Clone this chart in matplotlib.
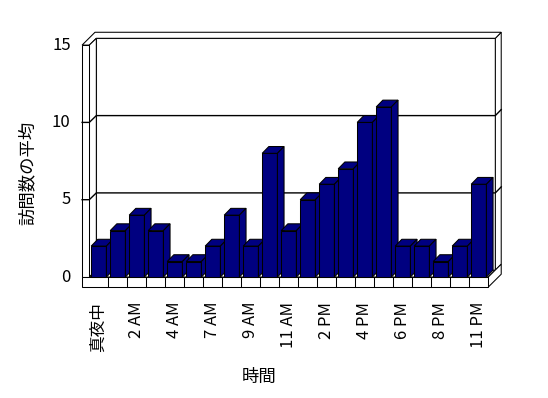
import matplotlib
matplotlib.use("Agg")
import matplotlib.pyplot as plt
from matplotlib.patches import Polygon, Rectangle

plt.rcParams['font.family'] = ['Noto Sans CJK JP', 'DejaVu Sans']

# data
hours = ['真夜中', '1 AM', '2 AM', '3 AM', '4 AM', '5 AM', '7 AM', '8 AM', '9 AM', '10 AM',
         '11 AM', '12 PM', '2 PM', '3 PM', '4 PM', '5 PM', '6 PM', '7 PM', '8 PM', '10 PM', '11 PM']
visits = [2, 3, 4, 3, 1, 1, 2, 4, 2, 8, 3, 5, 6, 7, 10, 11, 2, 2, 1, 2, 6]
yticks = [0, 5, 10, 15]
ymax = 15

NAVY = '#000080'
LW = 0.75

# 3d look (data units)
bw = 0.8            # bar width
bdx, bdy = 0.35, 0.44   # bar depth
idx, idy = 0.37, 0.44   # back wall inner plane
odx, ody = 0.68, 0.83   # back wall outer plane
wt = 0.38           # left wall thickness
ft = 0.65           # floor thickness

n = len(visits)
xL, xR = -0.5, n - 0.5

fig = plt.figure(figsize=(5.48, 3.98), dpi=100)
ax = fig.add_axes([0, 0, 1, 1])
ax.set_xlim(-98.8 / 19, (548 - 98.8) / 19)
ax.set_ylim(-121 / 15.46, (398 - 121) / 15.46)
ax.axis('off')


def poly(pts, fc='white', z=1):
    ax.add_patch(Polygon(pts, closed=True, facecolor=fc, edgecolor='black',
                         linewidth=LW, zorder=z, joinstyle='miter'))


# back wall
poly([(xL + idx, idy), (xR + idx, idy), (xR + idx, ymax + idy), (xL + idx, ymax + idy)], z=1)
# right end of back wall
poly([(xR + idx, idy), (xR + idx, ymax + idy), (xR + odx, ymax + ody), (xR + odx, ody)], z=1)
# top of walls
poly([(xL - wt, ymax), (xL, ymax), (xL + idx, ymax + idy), (xR + idx, ymax + idy),
      (xR + odx, ymax + ody), (xL - wt + odx, ymax + ody)], z=1)
# left wall inner face
poly([(xL, 0), (xL + idx, idy), (xL + idx, ymax + idy), (xL, ymax)], z=1)
# left wall front face
poly([(xL - wt, 0), (xL, 0), (xL, ymax), (xL - wt, ymax)], z=1)

# gridlines
for v in yticks[1:-1]:
    ax.plot([xL - wt, xL, xL + idx, xR + idx, xR + odx],
            [v, v, v + idy, v + idy, v + ody], color='black', lw=1.0, zorder=2)

# floor
poly([(xL, 0), (xR, 0), (xR + idx, idy), (xL + idx, idy)], z=3)
poly([(xR, -ft), (xR, 0), (xR + odx, ody), (xR + odx, ody - ft)], z=3)
ax.add_patch(Rectangle((xL - wt, -ft), xR - xL + wt, ft, facecolor='white',
                       edgecolor='black', linewidth=LW, zorder=3))
for k in range(1, n):
    ax.plot([xL + k, xL + k], [-ft, 0], color='black', lw=LW, zorder=3)

# bars, left to right so each one hides the side of the previous
for i, v in enumerate(visits):
    z = 10 + i
    ax.bar(i, v, width=bw, color=NAVY, edgecolor='black', linewidth=LW, zorder=z)
    l, r = i - bw / 2, i + bw / 2
    poly([(l, v), (r, v), (r + bdx, v + bdy), (l + bdx, v + bdy)], fc=NAVY, z=z)
    poly([(r, 0), (r + bdx, bdy), (r + bdx, v + bdy), (r, v)], fc=NAVY, z=z)

# y tick labels
for v in yticks:
    ax.text(xL - wt - 0.6, v, str(v), ha='right', va='center', fontsize=12)

# x tick labels (every other)
for i in range(0, n, 2):
    ax.text(i, -1.6, hours[i], rotation=90, ha='center', va='top', fontsize=12)

ax.text(-3.73, 6.73, '訪問数の平均', rotation=90, ha='center', va='center', fontsize=12.5)
ax.text(8.43, -6.45, '時間', ha='center', va='center', fontsize=12.5)

fig.savefig('out.png', dpi=100)
